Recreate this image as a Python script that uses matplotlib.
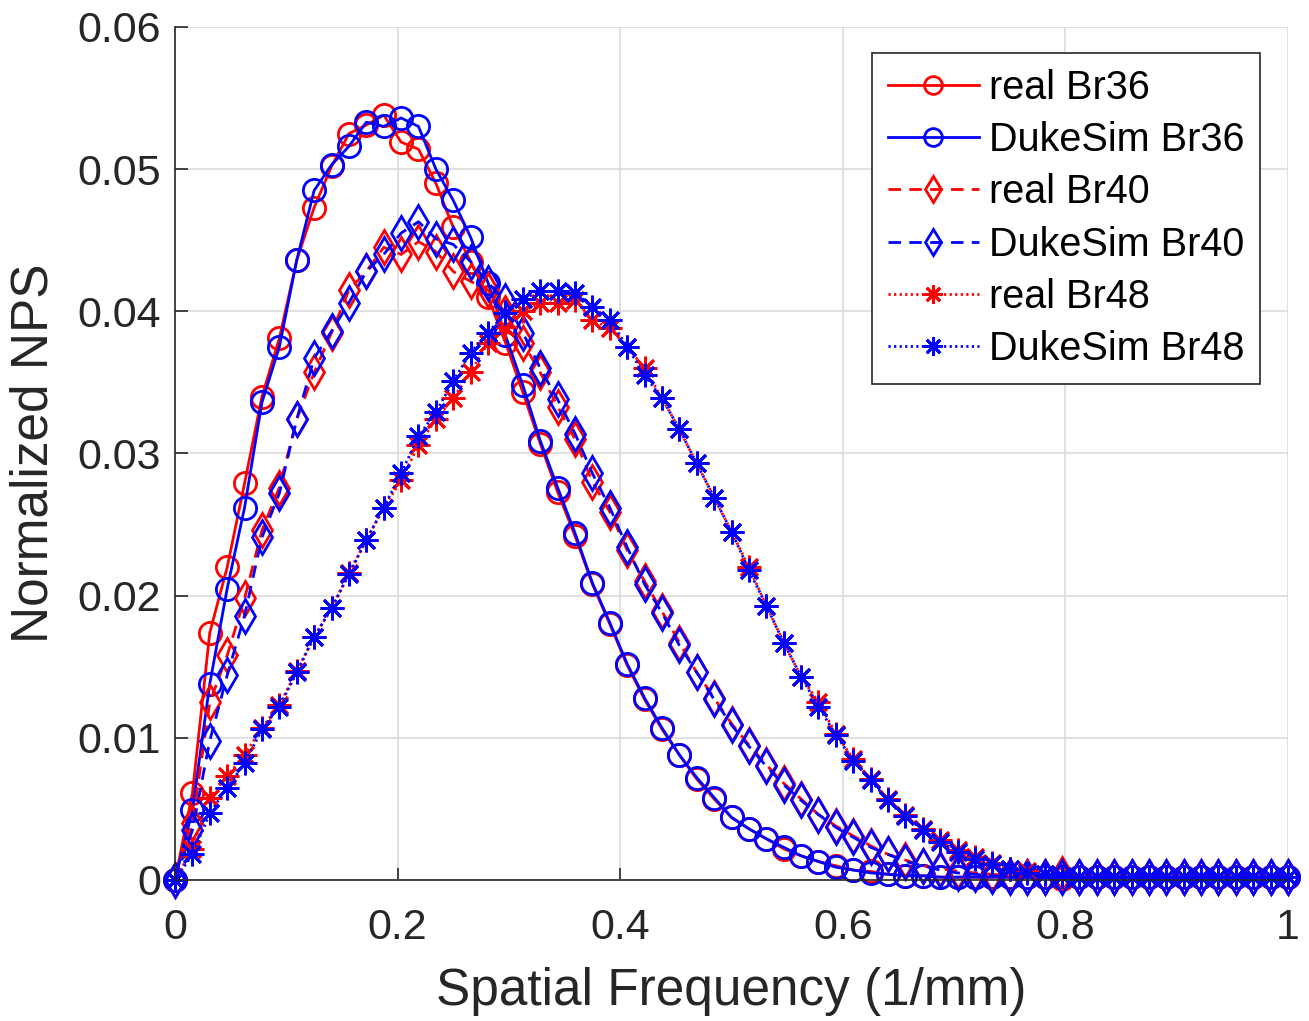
import numpy as np
import matplotlib
matplotlib.use("Agg")
import matplotlib.pyplot as plt

# spatial frequency bins (1/mm), 65 samples from 0 to 1
freq = np.arange(65) / 64

tail = [0.0002] * 13

real_br36 = [0, 0.0061, 0.0174, 0.0220, 0.0279, 0.0340, 0.0381, 0.0436, 0.0473, 0.0502,
             0.0525, 0.0531, 0.0538, 0.0519, 0.0514, 0.0490, 0.0459, 0.0435, 0.0410, 0.0378,
             0.0343, 0.0307, 0.0273, 0.0242, 0.0208, 0.0180, 0.0151, 0.0127, 0.0106, 0.0088,
             0.0071, 0.0057, 0.0044, 0.0036, 0.0029, 0.0022, 0.0017, 0.0013, 0.0010, 0.0007,
             0.0006, 0.0004, 0.0003, 0.0003, 0.0002, 0.0002, 0.0002, 0.0002, 0.0002, 0.0002,
             0.0002, 0.0001] + tail
duke_br36 = [0, 0.0049, 0.0138, 0.0205, 0.0262, 0.0336, 0.0375, 0.0436, 0.0485, 0.0503,
             0.0516, 0.0533, 0.0530, 0.0536, 0.0530, 0.0500, 0.0478, 0.0452, 0.0420, 0.0383,
             0.0348, 0.0309, 0.0276, 0.0244, 0.0209, 0.0181, 0.0152, 0.0128, 0.0107, 0.0088,
             0.0072, 0.0058, 0.0044, 0.0036, 0.0029, 0.0023, 0.0017, 0.0013, 0.0009, 0.0007,
             0.0005, 0.0004, 0.0003, 0.0003, 0.0002, 0.0002, 0.0002, 0.0002, 0.0002, 0.0002,
             0.0002, 0.0002] + tail
real_br40 = [0, 0.0040, 0.0125, 0.0158, 0.0198, 0.0246, 0.0276, 0.0324, 0.0357, 0.0385,
             0.0415, 0.0428, 0.0445, 0.0440, 0.0449, 0.0442, 0.0428, 0.0421, 0.0415, 0.0399,
             0.0378, 0.0357, 0.0333, 0.0310, 0.0280, 0.0259, 0.0232, 0.0210, 0.0189, 0.0167,
             0.0146, 0.0128, 0.0110, 0.0095, 0.0081, 0.0068, 0.0057, 0.0046, 0.0038, 0.0031,
             0.0024, 0.0018, 0.0014, 0.0010, 0.0008, 0.0006, 0.0005, 0.0004, 0.0003, 0.0002,
             0.0002, 0.0004, 0.0002] + tail[:12]
duke_br40 = [0, 0.0035, 0.0098, 0.0144, 0.0186, 0.0241, 0.0272, 0.0324, 0.0367, 0.0386,
             0.0406, 0.0428, 0.0440, 0.0455, 0.0463, 0.0451, 0.0447, 0.0435, 0.0420, 0.0407,
             0.0385, 0.0360, 0.0338, 0.0314, 0.0286, 0.0262, 0.0234, 0.0208, 0.0188, 0.0165,
             0.0146, 0.0127, 0.0109, 0.0094, 0.0080, 0.0067, 0.0056, 0.0046, 0.0037, 0.0030,
             0.0023, 0.0018, 0.0013, 0.0010, 0.0007, 0.0005, 0.0004, 0.0003, 0.0002, 0.0002,
             0.0002, 0.0002] + tail
real_br48 = [0, 0.0022, 0.0058, 0.0073, 0.0088, 0.0107, 0.0123, 0.0147, 0.0171, 0.0191,
             0.0216, 0.0239, 0.0262, 0.0281, 0.0306, 0.0324, 0.0339, 0.0357, 0.0378, 0.0389,
             0.0400, 0.0406, 0.0406, 0.0408, 0.0394, 0.0388, 0.0375, 0.0360, 0.0339, 0.0317,
             0.0293, 0.0269, 0.0245, 0.0220, 0.0193, 0.0167, 0.0143, 0.0125, 0.0103, 0.0085,
             0.0071, 0.0057, 0.0046, 0.0036, 0.0028, 0.0021, 0.0016, 0.0012, 0.0008, 0.0006,
             0.0004, 0.0003] + tail
duke_br48 = [0, 0.0018, 0.0047, 0.0065, 0.0082, 0.0106, 0.0122, 0.0146, 0.0171, 0.0191,
             0.0215, 0.0239, 0.0262, 0.0286, 0.0312, 0.0329, 0.0351, 0.0371, 0.0385, 0.0399,
             0.0409, 0.0414, 0.0414, 0.0413, 0.0403, 0.0394, 0.0375, 0.0355, 0.0339, 0.0317,
             0.0293, 0.0269, 0.0245, 0.0218, 0.0193, 0.0167, 0.0143, 0.0122, 0.0102, 0.0084,
             0.0070, 0.0056, 0.0045, 0.0035, 0.0027, 0.0020, 0.0015, 0.0011, 0.0008, 0.0005,
             0.0004, 0.0003] + tail

labels = ["real Br36", "DukeSim Br36", "real Br40", "DukeSim Br40", "real Br48", "DukeSim Br48"]
series = [real_br36, duke_br36, real_br40, duke_br40, real_br48, duke_br48]
colors = ["#ff0000", "#0000ff"] * 3
styles = ["-", "-", (0, (4.5, 3)), (0, (4.5, 3)), (0, (0.8, 1.2)), (0, (0.8, 1.2))]
markers = ["o", "o", "d", "d", (8, 2, 0), (8, 2, 0)]
msizes = [16, 16, 17, 17, 17, 17]

plt.rcParams["font.family"] = ["Liberation Sans", "DejaVu Sans"]
dark = "#262626"

fig = plt.figure(figsize=(13.09, 10.21), dpi=100)
ax = fig.add_axes([0.1337, 0.1381, 0.8503, 0.8355])

for y, lab, c, ls, m, ms in zip(series, labels, colors, styles, markers, msizes):
	ax.plot(freq, y, color=c, linestyle=ls, linewidth=2.0, marker=m, markersize=ms,
			markerfacecolor="none", markeredgecolor=c, markeredgewidth=2.0,
			label=lab, clip_on=False)

ax.set_xlim(0, 1)
ax.set_ylim(0, 0.06)
ax.set_xticks([0, 0.2, 0.4, 0.6, 0.8, 1])
ax.set_xticklabels(["0", "0.2", "0.4", "0.6", "0.8", "1"])
ax.set_yticks([0, 0.01, 0.02, 0.03, 0.04, 0.05, 0.06])
ax.set_yticklabels(["0", "0.01", "0.02", "0.03", "0.04", "0.05", "0.06"])
ax.tick_params(direction="in", length=9, width=1.2, labelsize=31, colors=dark)
ax.tick_params(axis="x", pad=20)
ax.tick_params(axis="y", pad=10)
ax.grid(True, color="#dcdcdc", linewidth=1.2)
ax.set_axisbelow(True)
for side in ["top", "right"]:
	ax.spines[side].set_visible(False)
for side in ["left", "bottom"]:
	ax.spines[side].set_color(dark)
	ax.spines[side].set_linewidth(1.2)

ax.set_xlabel("Spatial Frequency (1/mm)", fontsize=37, color=dark, labelpad=14)
ax.set_ylabel("Normalized NPS", fontsize=37, color=dark, labelpad=14)

leg = ax.legend(loc="upper right", bbox_to_anchor=(0.975, 0.9695), fontsize=28.5,
				frameon=True, fancybox=False, framealpha=1, edgecolor=dark,
				handlelength=2.3, handletextpad=0.25, labelspacing=0.36,
				borderpad=0.4, borderaxespad=0)
leg.get_frame().set_linewidth(1.2)
for h in leg.legend_handles:
	h.set_markersize(h.get_markersize() * 0.8)

fig.savefig("out.png", dpi=100)
